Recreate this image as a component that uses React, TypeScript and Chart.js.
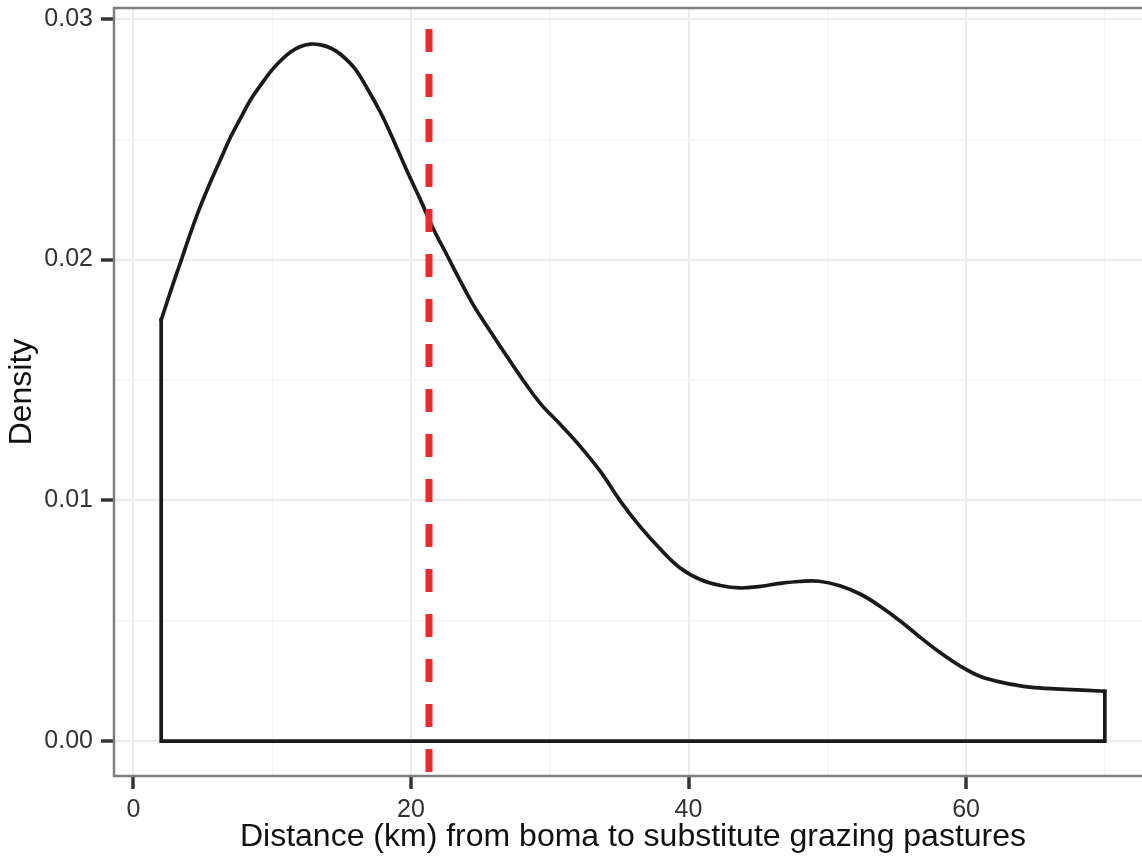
import { useEffect, useRef } from "react";
import { Chart, registerables } from "chart.js";

Chart.register(...registerables);

// Density curve
const curveX = [2.0, 2.7, 3.4, 4.1, 4.8, 5.55, 6.3, 7.0, 7.7, 8.4, 9.15, 9.9, 10.6, 11.3, 12.0, 12.75, 13.5, 14.2, 14.9, 15.9, 16.8, 17.8, 18.75, 19.7, 20.7, 21.6, 22.6, 23.55, 24.5, 25.5, 26.45, 27.9, 29.3, 30.75, 32.2, 33.65, 35.1, 36.5, 38.0, 39.4, 40.85, 42.3, 43.7, 45.2, 46.6, 48.0, 49.4, 50.9, 52.4, 53.8, 55.3, 56.7, 58.1, 59.6, 61.0, 62.5, 64.6, 66.8, 70.0];
const curveY = [0.01749, 0.01872, 0.01990, 0.02108, 0.02218, 0.02322, 0.02419, 0.02509, 0.02585, 0.0266, 0.02723, 0.02782, 0.02826, 0.02861, 0.02884, 0.02895, 0.02892, 0.02879, 0.02854, 0.02797, 0.02716, 0.02612, 0.02495, 0.0237, 0.02246, 0.02129, 0.02018, 0.01912, 0.01811, 0.01721, 0.01638, 0.01514, 0.01404, 0.01316, 0.01224, 0.0112, 0.00996, 0.00892, 0.00796, 0.00719, 0.00671, 0.00646, 0.00636, 0.00643, 0.00655, 0.00663, 0.00664, 0.00645, 0.0061, 0.0056, 0.00497, 0.00431, 0.00369, 0.00311, 0.00269, 0.00245, 0.00224, 0.00216, 0.00207];

const meanDistance = 21.3;

const xTickValues = [0, 10, 20, 30, 40, 50, 60, 70];
const xLabelled = [0, 20, 40, 60];
const yTickValues = [0, 0.005, 0.01, 0.015, 0.02, 0.025, 0.03];
const yLabelled = [0, 0.01, 0.02, 0.03];
const yTickLabels = ["0.00", "0.01", "0.02", "0.03"];

const xTitle = "Distance (km) from boma to substitute grazing pastures";
const yTitle = "Density";

const X_MIN = -1.4;
const X_MAX = 73.4;
const Y_MIN = -0.00145;
const Y_MAX = 0.03045;

const FONT = "'Liberation Sans', Arial, Helvetica, sans-serif";

const near = (a: number, list: number[]) => list.findIndex((v) => Math.abs(v - a) < 1e-9);

const panelBorder = {
  id: "panelBorder",
  afterDatasetsDraw(chart: any) {
    const { ctx, chartArea } = chart;
    ctx.save();
    ctx.strokeStyle = "#7f7f7f";
    ctx.lineWidth = 2.5;
    ctx.strokeRect(chartArea.left, chartArea.top, chartArea.right - chartArea.left, chartArea.bottom - chartArea.top);
    ctx.restore();
  },
};

export default function App() {
  const ref = useRef<HTMLCanvasElement | null>(null);

  useEffect(() => {
    document.body.style.margin = "0";
    if (!ref.current) return;
    const n = curveX.length;
    const curve = curveX.map((x, i) => ({ x, y: curveY[i] }));
    const outline = [
      { x: curveX[0], y: curveY[0] },
      { x: curveX[0], y: 0 },
      { x: curveX[n - 1], y: 0 },
      { x: curveX[n - 1], y: curveY[n - 1] },
    ];
    const vline = [
      { x: meanDistance, y: Y_MAX },
      { x: meanDistance, y: Y_MIN },
    ];

    const chart = new Chart(ref.current, {
      type: "line",
      data: {
        datasets: [
          {
            data: vline,
            borderColor: "#EE2B2B",
            borderWidth: 7,
            borderDash: [23, 22],
            borderDashOffset: 24,
            borderCapStyle: "butt",
            pointRadius: 0,
            tension: 0,
            order: 0,
          },
          {
            data: curve,
            borderColor: "#1a1a1a",
            borderWidth: 3.7,
            pointRadius: 0,
            tension: 0.4,
            borderCapStyle: "round",
            borderJoinStyle: "round",
            order: 1,
          },
          {
            data: outline,
            borderColor: "#1a1a1a",
            borderWidth: 3.7,
            pointRadius: 0,
            tension: 0,
            borderCapStyle: "square",
            borderJoinStyle: "miter",
            order: 1,
          },
        ],
      } as any,
      options: {
        animation: false,
        responsive: true,
        maintainAspectRatio: false,
        layout: { padding: { top: 8, right: 10, left: 0, bottom: 0 } },
        plugins: { legend: { display: false }, tooltip: { enabled: false } },
        scales: {
          x: {
            type: "linear",
            min: X_MIN,
            max: X_MAX,
            afterBuildTicks: (s: any) => {
              s.ticks = xTickValues.map((v) => ({ value: v }));
            },
            afterFit: (s: any) => {
              s.height = 80;
              s.paddingLeft = 0;
              s.paddingRight = 0;
            },
            ticks: {
              autoSkip: false,
              maxRotation: 0,
              padding: 6,
              color: "#333333",
              font: { family: FONT, size: 25 },
              callback: (v: any) => (near(Number(v), xLabelled) >= 0 ? String(v) : ""),
            },
            grid: {
              color: (c: any) => (c.tick && near(c.tick.value, xLabelled) >= 0 ? "#ebebeb" : "#f4f4f4"),
              lineWidth: (c: any) => (c.tick && near(c.tick.value, xLabelled) >= 0 ? 2 : 1.3),
              tickColor: (c: any) => (c.tick && near(c.tick.value, xLabelled) >= 0 ? "#333333" : "rgba(0,0,0,0)"),
              tickLength: 13,
              tickWidth: 3.5,
              drawTicks: true,
            },
            border: { display: false },
            title: {
              display: true,
              text: xTitle,
              color: "#111111",
              font: { family: FONT, size: 32 },
              padding: { top: 0, bottom: 0 },
            },
          },
          y: {
            type: "linear",
            min: Y_MIN,
            max: Y_MAX,
            afterBuildTicks: (s: any) => {
              s.ticks = yTickValues.map((v) => ({ value: v }));
            },
            afterFit: (s: any) => {
              s.width = 114;
              s.paddingTop = 0;
              s.paddingBottom = 0;
            },
            ticks: {
              autoSkip: false,
              padding: 8,
              color: "#333333",
              font: { family: FONT, size: 25 },
              callback: (v: any) => {
                const i = near(Number(v), yLabelled);
                return i >= 0 ? yTickLabels[i] : "";
              },
            },
            grid: {
              color: (c: any) => (c.tick && near(c.tick.value, yLabelled) >= 0 ? "#ebebeb" : "#f4f4f4"),
              lineWidth: (c: any) => (c.tick && near(c.tick.value, yLabelled) >= 0 ? 2 : 1.3),
              tickColor: (c: any) => (c.tick && near(c.tick.value, yLabelled) >= 0 ? "#333333" : "rgba(0,0,0,0)"),
              tickLength: 13,
              tickWidth: 3.5,
              drawTicks: true,
            },
            border: { display: false },
            title: {
              display: true,
              text: yTitle,
              color: "#111111",
              font: { family: FONT, size: 32 },
              padding: { top: 3, bottom: 0 },
            },
          },
        },
      } as any,
      plugins: [panelBorder],
    });
    return () => chart.destroy();
  }, []);

  return (
    <div style={{ position: "fixed", left: 0, top: 0, width: 1142, height: 856, overflow: "hidden", background: "#ffffff" }}>
      <div style={{ position: "relative", width: 1162, height: 856 }}>
        <canvas ref={ref} />
      </div>
    </div>
  );
}
